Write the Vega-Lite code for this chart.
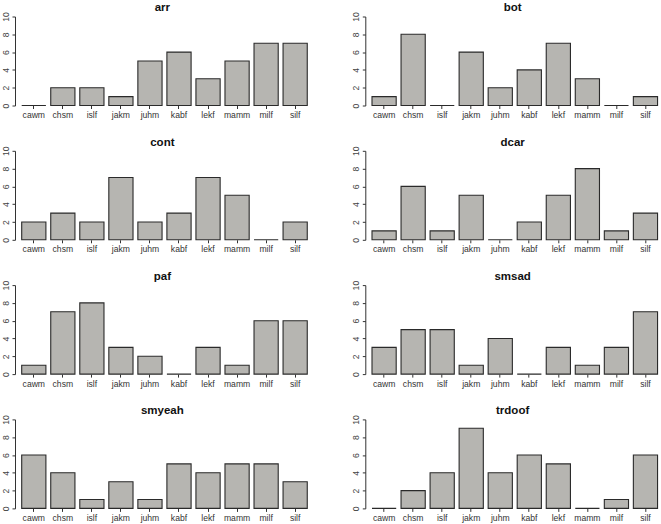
{
  "$schema": "https://vega.github.io/schema/vega-lite/v6.json",
  "padding": {"left": 1, "top": 1.5, "right": 0, "bottom": 0},
  "background": "white",
  "data": {"values": [
    {"p":"arr","k":"cawm","v":0},{"p":"arr","k":"chsm","v":2},{"p":"arr","k":"islf","v":2},{"p":"arr","k":"jakm","v":1},{"p":"arr","k":"juhm","v":5},{"p":"arr","k":"kabf","v":6},{"p":"arr","k":"lekf","v":3},{"p":"arr","k":"mamm","v":5},{"p":"arr","k":"milf","v":7},{"p":"arr","k":"silf","v":7},
    {"p":"bot","k":"cawm","v":1},{"p":"bot","k":"chsm","v":8},{"p":"bot","k":"islf","v":0},{"p":"bot","k":"jakm","v":6},{"p":"bot","k":"juhm","v":2},{"p":"bot","k":"kabf","v":4},{"p":"bot","k":"lekf","v":7},{"p":"bot","k":"mamm","v":3},{"p":"bot","k":"milf","v":0},{"p":"bot","k":"silf","v":1},
    {"p":"cont","k":"cawm","v":2},{"p":"cont","k":"chsm","v":3},{"p":"cont","k":"islf","v":2},{"p":"cont","k":"jakm","v":7},{"p":"cont","k":"juhm","v":2},{"p":"cont","k":"kabf","v":3},{"p":"cont","k":"lekf","v":7},{"p":"cont","k":"mamm","v":5},{"p":"cont","k":"milf","v":0},{"p":"cont","k":"silf","v":2},
    {"p":"dcar","k":"cawm","v":1},{"p":"dcar","k":"chsm","v":6},{"p":"dcar","k":"islf","v":1},{"p":"dcar","k":"jakm","v":5},{"p":"dcar","k":"juhm","v":0},{"p":"dcar","k":"kabf","v":2},{"p":"dcar","k":"lekf","v":5},{"p":"dcar","k":"mamm","v":8},{"p":"dcar","k":"milf","v":1},{"p":"dcar","k":"silf","v":3},
    {"p":"paf","k":"cawm","v":1},{"p":"paf","k":"chsm","v":7},{"p":"paf","k":"islf","v":8},{"p":"paf","k":"jakm","v":3},{"p":"paf","k":"juhm","v":2},{"p":"paf","k":"kabf","v":0},{"p":"paf","k":"lekf","v":3},{"p":"paf","k":"mamm","v":1},{"p":"paf","k":"milf","v":6},{"p":"paf","k":"silf","v":6},
    {"p":"smsad","k":"cawm","v":3},{"p":"smsad","k":"chsm","v":5},{"p":"smsad","k":"islf","v":5},{"p":"smsad","k":"jakm","v":1},{"p":"smsad","k":"juhm","v":4},{"p":"smsad","k":"kabf","v":0},{"p":"smsad","k":"lekf","v":3},{"p":"smsad","k":"mamm","v":1},{"p":"smsad","k":"milf","v":3},{"p":"smsad","k":"silf","v":7},
    {"p":"smyeah","k":"cawm","v":6},{"p":"smyeah","k":"chsm","v":4},{"p":"smyeah","k":"islf","v":1},{"p":"smyeah","k":"jakm","v":3},{"p":"smyeah","k":"juhm","v":1},{"p":"smyeah","k":"kabf","v":5},{"p":"smyeah","k":"lekf","v":4},{"p":"smyeah","k":"mamm","v":5},{"p":"smyeah","k":"milf","v":5},{"p":"smyeah","k":"silf","v":3},
    {"p":"trdoof","k":"cawm","v":0},{"p":"trdoof","k":"chsm","v":2},{"p":"trdoof","k":"islf","v":4},{"p":"trdoof","k":"jakm","v":9},{"p":"trdoof","k":"juhm","v":4},{"p":"trdoof","k":"kabf","v":6},{"p":"trdoof","k":"lekf","v":5},{"p":"trdoof","k":"mamm","v":0},{"p":"trdoof","k":"milf","v":1},{"p":"trdoof","k":"silf","v":6}
  ]},
  "columns": 2,
  "spacing": {"row": 45.3, "column": 55.3},
  "bounds": "flush",
  "concat": [
    {"title": "arr", "transform": [{"filter": "datum.p === 'arr'"}], "width": 294.7, "height": 89, "mark": "bar",
     "encoding": {"x": {"field": "k", "type": "nominal", "sort": null, "scale": {"align": 0.733}}, "y": {"field": "v", "type": "quantitative", "scale": {"domain": [0, 10]}, "axis": {"values": [0, 2, 4, 6, 8, 10]}}}},
    {"title": "bot", "transform": [{"filter": "datum.p === 'bot'"}], "width": 294.7, "height": 89, "mark": "bar",
     "encoding": {"x": {"field": "k", "type": "nominal", "sort": null, "scale": {"align": 0.733}}, "y": {"field": "v", "type": "quantitative", "scale": {"domain": [0, 10]}, "axis": {"values": [0, 2, 4, 6, 8, 10]}}}},
    {"title": "cont", "transform": [{"filter": "datum.p === 'cont'"}], "width": 294.7, "height": 89, "mark": "bar",
     "encoding": {"x": {"field": "k", "type": "nominal", "sort": null, "scale": {"align": 0.733}}, "y": {"field": "v", "type": "quantitative", "scale": {"domain": [0, 10]}, "axis": {"values": [0, 2, 4, 6, 8, 10]}}}},
    {"title": "dcar", "transform": [{"filter": "datum.p === 'dcar'"}], "width": 294.7, "height": 89, "mark": "bar",
     "encoding": {"x": {"field": "k", "type": "nominal", "sort": null, "scale": {"align": 0.733}}, "y": {"field": "v", "type": "quantitative", "scale": {"domain": [0, 10]}, "axis": {"values": [0, 2, 4, 6, 8, 10]}}}},
    {"title": "paf", "transform": [{"filter": "datum.p === 'paf'"}], "width": 294.7, "height": 89, "mark": "bar",
     "encoding": {"x": {"field": "k", "type": "nominal", "sort": null, "scale": {"align": 0.733}}, "y": {"field": "v", "type": "quantitative", "scale": {"domain": [0, 10]}, "axis": {"values": [0, 2, 4, 6, 8, 10]}}}},
    {"title": "smsad", "transform": [{"filter": "datum.p === 'smsad'"}], "width": 294.7, "height": 89, "mark": "bar",
     "encoding": {"x": {"field": "k", "type": "nominal", "sort": null, "scale": {"align": 0.733}}, "y": {"field": "v", "type": "quantitative", "scale": {"domain": [0, 10]}, "axis": {"values": [0, 2, 4, 6, 8, 10]}}}},
    {"title": "smyeah", "transform": [{"filter": "datum.p === 'smyeah'"}], "width": 294.7, "height": 89, "mark": "bar",
     "encoding": {"x": {"field": "k", "type": "nominal", "sort": null, "scale": {"align": 0.733}}, "y": {"field": "v", "type": "quantitative", "scale": {"domain": [0, 10]}, "axis": {"values": [0, 2, 4, 6, 8, 10]}}}},
    {"title": "trdoof", "transform": [{"filter": "datum.p === 'trdoof'"}], "width": 294.7, "height": 89, "mark": "bar",
     "encoding": {"x": {"field": "k", "type": "nominal", "sort": null, "scale": {"align": 0.733}}, "y": {"field": "v", "type": "quantitative", "scale": {"domain": [0, 10]}, "axis": {"values": [0, 2, 4, 6, 8, 10]}}}}
  ],
  "config": {
    "font": "Liberation Sans",
    "view": {"stroke": null},
    "bar": {"fill": "#b6b5b1", "stroke": "#2a2a2a", "strokeWidth": 1.1, "opacity": 1, "fillOpacity": 1},
    "scale": {"bandPaddingInner": 0.1667, "bandPaddingOuter": 0.1574},
    "title": {"fontSize": 11.5, "fontWeight": "bold", "font": "Liberation Sans", "color": "#111", "offset": -2, "anchor": "middle"},
    "axisX": {"title": null, "domain": false, "ticks": true, "tickSize": 3, "tickColor": "#333", "labelAngle": 0, "labelFontSize": 8.6, "labelColor": "#333", "labelPadding": 2, "grid": false, "labelFont": "Liberation Sans"},
    "axisY": {"title": null, "domain": true, "domainColor": "#333", "ticks": true, "tickSize": 3, "tickColor": "#333", "labelAngle": -90, "labelFontSize": 8.6, "labelColor": "#444", "labelPadding": 2, "grid": false, "labelFont": "Liberation Sans"},
    "axis": {"domainWidth": 1, "tickWidth": 1}
  }
}
